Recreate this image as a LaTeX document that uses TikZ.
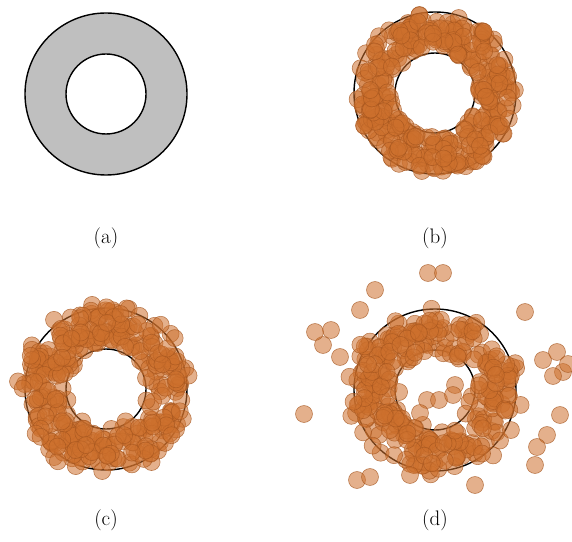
\documentclass[tikz,border=0pt]{standalone}
\usepackage{fontspec}
\definecolor{beadfill}{RGB}{205,112,45}
\definecolor{beadline}{RGB}{165,85,30}
\tikzset{
  ring/.style={line width=1.4pt, draw=black},
  bead/.style={fill=beadfill, fill opacity=0.55, draw=beadline, draw opacity=0.75, line width=0.55pt},
  tag/.style={font=\fontsize{21}{25}\selectfont}
}
\begin{document}
\begin{tikzpicture}[x=1pt, y=1pt, line join=round, line cap=round]
	\useasboundingbox (0,0) rectangle (572,541);
	\path (106,447) coordinate (A)
		(435,448) coordinate (B)
		(106,152) coordinate (C)
		(435,151) coordinate (D);
	% bare ring
	\draw[ring, fill=gray!50, even odd rule] (A) circle (81) (A) circle (40);
	% rings under the beads
	\foreach \p in {B,C,D} \draw[ring] (\p) circle (81) (\p) circle (40);
	% (b): beads packed in the ring
	\pgfmathsetseed{11}
	\begin{scope}[shift={(B)}]
		\foreach \i in {1,...,360} {
			\pgfmathsetmacro\ang{360*rnd}
			\pgfmathsetmacro\rad{sqrt(1936+4464*rnd)}
			\path[bead] (\ang:\rad) circle (8.5);
		}
	\end{scope}
	% (c): beads shaken a bit
	\pgfmathsetseed{23}
	\begin{scope}[shift={(C)}]
		\foreach \i in {1,...,340} {
			\pgfmathsetmacro\ang{360*rnd}
			\pgfmathsetmacro\rad{sqrt(1936+4464*rnd)+9*rand}
			\path[bead] (\ang:\rad) circle (8.5);
		}
	\end{scope}
	% (d): beads shaken hard, some thrown off
	\pgfmathsetseed{37}
	\begin{scope}[shift={(D)}]
		\foreach \i in {1,...,300} {
			\pgfmathsetmacro\ang{360*rnd}
			\pgfmathsetmacro\rad{sqrt(1936+4464*rnd)+10*rand}
			\path[bead] (\ang:\rad) circle (8.5);
		}
		\foreach \x/\y in {-131/-24,-95/33,-112/45,-104/60,-120/58,-75/80,-60/100,
			-7/117,8/117,90/78,108/30,122/38,128/18,118/14,133/26,
			-8/-10,4/-10,20/5,18/-5,-15/-23,
			125/-25,112/-45,102/-57,100/-75,-78/-90,-65/-87,40/-95,-25/-85} {
			\path[bead] (\x,\y) circle (8.5);
		}
	\end{scope}
	\node[tag] (la) at (106,303) {(a)};
	\node[tag] (lb) at (435,303) {(b)};
	\node[tag] (lc) at (106,21) {(c)};
	\node[tag] (ld) at (435,21) {(d)};
\end{tikzpicture}
\end{document}
